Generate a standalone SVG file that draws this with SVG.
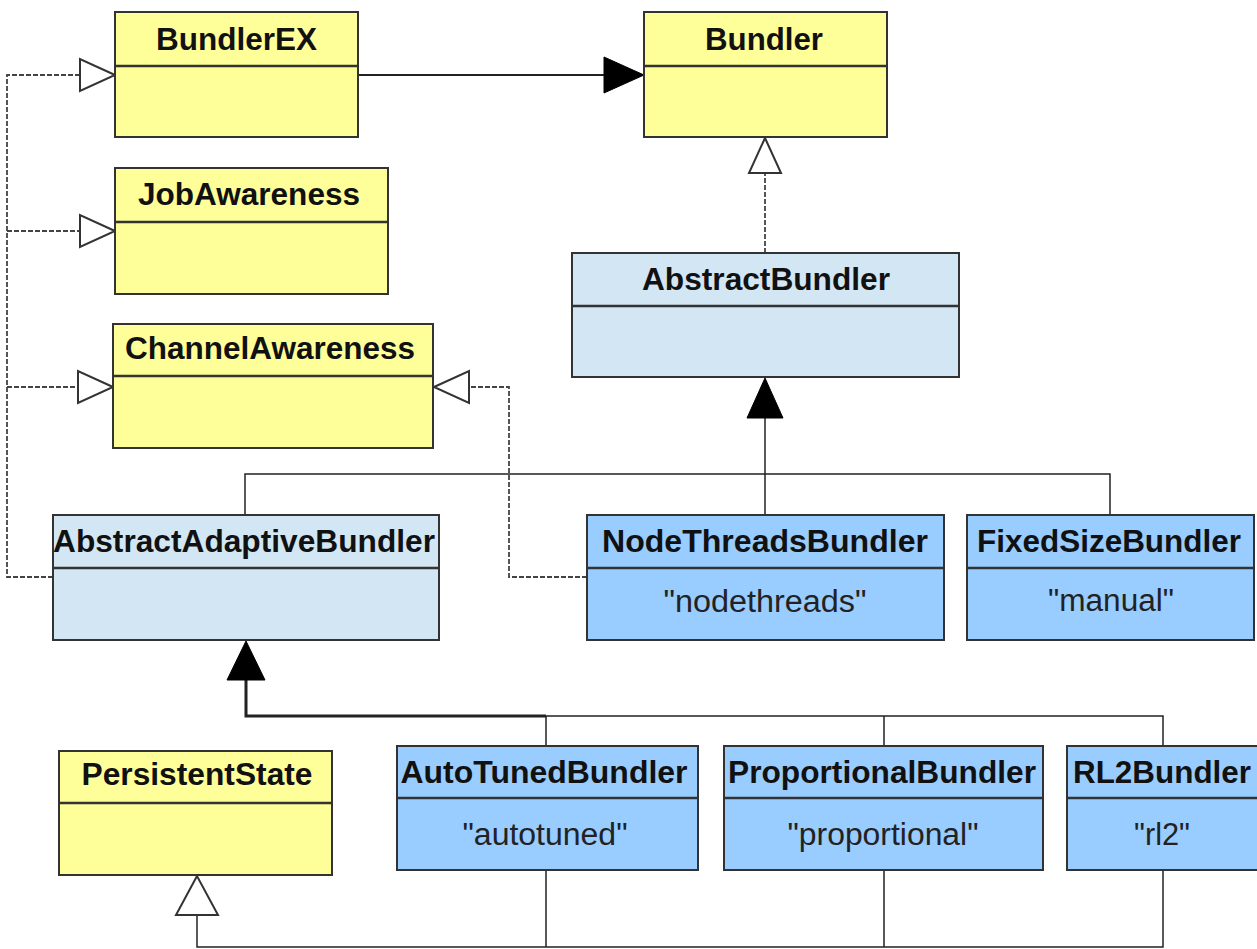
<svg xmlns="http://www.w3.org/2000/svg" width="1257" height="949" viewBox="0 0 1257 949">
<style>
.box{stroke:#333;stroke-width:2}
.yel{fill:#FFFF99}
.lb{fill:#D2E6F4}
.db{fill:#99CCFF}
.div{stroke:#333;stroke-width:2.5}
.t{font-family:"Liberation Sans",Arial,sans-serif;font-size:31px;font-weight:bold;fill:#111;text-anchor:middle}
.b{font-family:"Liberation Sans",Arial,sans-serif;font-size:31px;fill:#222;text-anchor:middle}
.sol{fill:none;stroke:#222;stroke-width:1.5}
.dash{fill:none;stroke:#444;stroke-width:1.8;stroke-dasharray:5,2}
.open{fill:#fff;stroke:#333;stroke-width:2}
.fill{fill:#000;stroke:#000;stroke-width:1}
</style>
<rect width="1257" height="949" fill="#fff"/>
<g id="connectors">
  <path class="dash" d="M53,577 H7 V75 H80 M7,231 H80 M7,387 H78"/>
  <polygon class="open" points="115,75 80,59 80,91"/>
  <polygon class="open" points="115,231 80,215 80,247"/>
  <polygon class="open" points="113,387 78,371 78,403"/>
  <path class="dash" d="M587,577 H509 V387 H469"/>
  <polygon class="open" points="434,387 469,371 469,403"/>
  <path class="sol" d="M358,75 H604" style="stroke-width:2"/>
  <polygon class="fill" points="644,75 604,57 604,93"/>
  <path class="dash" d="M765,253 V173"/>
  <polygon class="open" points="765,138 749,173 781,173"/>
  <path class="sol" d="M765,418 V515 M245,515 V474 H1110 V515"/>
  <polygon class="fill" points="765,378 747,418 783,418"/>
  <path class="sol" d="M246,680 V716 H546" style="stroke-width:3"/>
  <path class="sol" d="M546,716 H1163 V746 M546,716 V746 M884,716 V746"/>
  <polygon class="fill" points="246,641 227,680 265,680"/>
  <path class="sol" d="M197,915 V947 H1163 V870 M546,870 V947 M884,870 V947"/>
  <polygon class="open" points="197,876 176,915 218,915"/>
</g>
<g id="BundlerEX">
  <rect class="box yel" x="115" y="12" width="243" height="125"/>
  <line class="div" x1="115" y1="66" x2="358" y2="66"/>
  <text class="t" x="236.5" y="50" textLength="161" lengthAdjust="spacingAndGlyphs">BundlerEX</text>
</g>
<g id="Bundler">
  <rect class="box yel" x="644" y="12" width="243" height="125"/>
  <line class="div" x1="644" y1="66" x2="887" y2="66"/>
  <text class="t" x="764" y="50" textLength="118" lengthAdjust="spacingAndGlyphs">Bundler</text>
</g>
<g id="JobAwareness">
  <rect class="box yel" x="115" y="168" width="273" height="126"/>
  <line class="div" x1="115" y1="222" x2="388" y2="222"/>
  <text class="t" x="249" y="205" textLength="222" lengthAdjust="spacingAndGlyphs">JobAwareness</text>
</g>
<g id="AbstractBundler">
  <rect class="box lb" x="572" y="253" width="387" height="124"/>
  <line class="div" x1="572" y1="306" x2="959" y2="306"/>
  <text class="t" x="766" y="290" textLength="248" lengthAdjust="spacingAndGlyphs">AbstractBundler</text>
</g>
<g id="ChannelAwareness">
  <rect class="box yel" x="113" y="324" width="320" height="124"/>
  <line class="div" x1="113" y1="376" x2="433" y2="376"/>
  <text class="t" x="270" y="359" textLength="290" lengthAdjust="spacingAndGlyphs">ChannelAwareness</text>
</g>
<g id="AbstractAdaptiveBundler">
  <rect class="box lb" x="53" y="515" width="386" height="125"/>
  <line class="div" x1="53" y1="568" x2="439" y2="568"/>
  <text class="t" x="244" y="552" textLength="382" lengthAdjust="spacingAndGlyphs">AbstractAdaptiveBundler</text>
</g>
<g id="NodeThreadsBundler">
  <rect class="box db" x="587" y="515" width="357" height="125"/>
  <line class="div" x1="587" y1="568" x2="944" y2="568"/>
  <text class="t" x="765" y="552" textLength="326" lengthAdjust="spacingAndGlyphs">NodeThreadsBundler</text>
  <text class="b" x="765" y="612" textLength="203" lengthAdjust="spacingAndGlyphs">"nodethreads"</text>
</g>
<g id="FixedSizeBundler">
  <rect class="box db" x="967" y="515" width="287" height="125"/>
  <line class="div" x1="967" y1="568" x2="1254" y2="568"/>
  <text class="t" x="1109" y="552" textLength="264" lengthAdjust="spacingAndGlyphs">FixedSizeBundler</text>
  <text class="b" x="1111" y="611" textLength="126" lengthAdjust="spacingAndGlyphs">"manual"</text>
</g>
<g id="PersistentState">
  <rect class="box yel" x="59" y="751" width="273" height="124"/>
  <line class="div" x1="59" y1="803" x2="332" y2="803"/>
  <text class="t" x="197" y="785" textLength="231" lengthAdjust="spacingAndGlyphs">PersistentState</text>
</g>
<g id="AutoTunedBundler">
  <rect class="box db" x="397" y="746" width="301" height="124"/>
  <line class="div" x1="397" y1="798" x2="698" y2="798"/>
  <text class="t" x="544" y="783" textLength="287" lengthAdjust="spacingAndGlyphs">AutoTunedBundler</text>
  <text class="b" x="545" y="845" textLength="165" lengthAdjust="spacingAndGlyphs">"autotuned"</text>
</g>
<g id="ProportionalBundler">
  <rect class="box db" x="724" y="746" width="319" height="124"/>
  <line class="div" x1="724" y1="798" x2="1043" y2="798"/>
  <text class="t" x="882" y="783" textLength="308" lengthAdjust="spacingAndGlyphs">ProportionalBundler</text>
  <text class="b" x="883" y="845" textLength="191" lengthAdjust="spacingAndGlyphs">"proportional"</text>
</g>
<g id="RL2Bundler">
  <rect class="box db" x="1067" y="746" width="200" height="124"/>
  <line class="div" x1="1067" y1="798" x2="1267" y2="798"/>
  <text class="t" x="1162" y="783" textLength="178" lengthAdjust="spacingAndGlyphs">RL2Bundler</text>
  <text class="b" x="1162" y="845" textLength="56" lengthAdjust="spacingAndGlyphs">"rl2"</text>
</g>
</svg>
